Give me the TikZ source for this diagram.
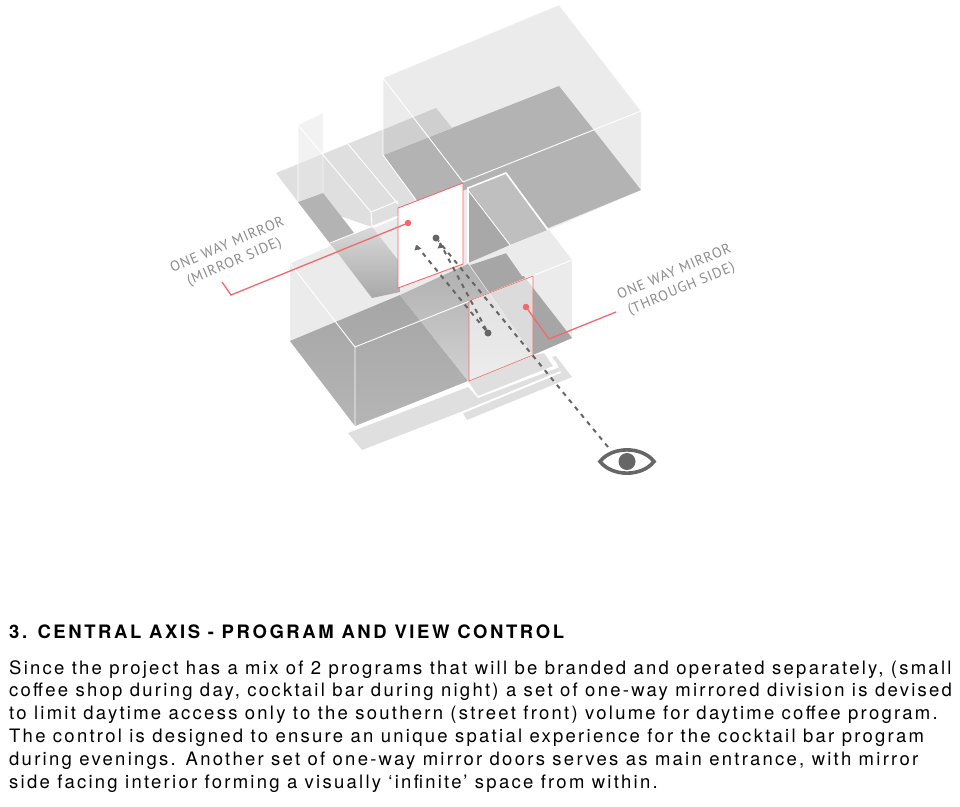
\documentclass[tikz,border=0pt]{standalone}
\usepackage{fontspec}
\setmainfont{TeX Gyre Heros}
\newfontfamily\labelfont[LetterSpace=6]{PT Sans}
\newfontfamily\bodyfont[LetterSpace=12.2]{TeX Gyre Heros}
\newfontfamily\titlefont[LetterSpace=14]{TeX Gyre Heros}
\usetikzlibrary{arrows.meta}

\definecolor{wallgrey}{HTML}{EBEBEB}
\definecolor{floorgrey}{HTML}{B3B3B3}
\definecolor{plategrey}{HTML}{DFDFDF}
\definecolor{mirrorred}{HTML}{F4686C}
\definecolor{axisgrey}{HTML}{666666}
\definecolor{labelgrey}{HTML}{8C8C8C}

\begin{document}
\begin{tikzpicture}[x=1pt, y=-1pt,
  edge/.style={draw=white, line width=0.9pt},
  mirror/.style={draw=mirrorred, line width=0.9pt},
  leader/.style={draw=mirrorred, line width=1.3pt},
  reddot/.style={circle, fill=mirrorred, inner sep=0pt, minimum size=6.5pt},
  greydot/.style={circle, fill=axisgrey, inner sep=0pt, minimum size=7pt},
  axisline/.style={draw=axisgrey, line width=2pt, dash pattern=on 4.5pt off 5pt},
  sidelabel/.style={font=\labelfont\fontsize{14.4}{18}\selectfont, text=labelgrey, rotate=23, align=center},
]
\useasboundingbox (0,0) rectangle (960,806);

% back volume
\fill[wallgrey] (383,78) -- (559,5) -- (641,111) -- (641,190) -- (548,230) -- (463,262) -- (383,155) -- cycle;
\fill[floorgrey] (383,155) -- (559,86) -- (641,190) -- (463,263) -- cycle;

% side plate
\fill[plategrey] (276,173) -- (436,108) -- (452,128) -- (383,155) -- (416,200) -- (398,208) -- (398,216) -- (372,227) -- (298,202) -- cycle;
\fill[gray!38] (383,130) -- (436,108) -- (452,128) -- (383,155) -- cycle;
\fill[floorgrey] (298,202) -- (323,193) -- (400,292) -- (372,298) -- cycle;
\fill[gray!20, opacity=0.5] (298,125) -- (323,113) -- (323,193) -- (298,202) -- cycle;

% front volume
\fill[wallgrey] (290,263) -- (506,173) -- (572,260) -- (572,338) -- (355,426) -- (290,341) -- cycle;
\shade[top color=gray!30, bottom color=gray!68] (330,243) -- (372,227) -- (398,260) -- (400,292) -- (372,298) -- cycle;
\fill[gray!50] (468,188) -- (506,173) -- (548,230) -- (510,245) -- cycle;
\fill[gray!68] (468,188) -- (510,245) -- (468,263) -- cycle;
\shade[top color=gray!70, bottom color=gray!58] (290,341) -- (400,295) -- (468,381) -- (355,426) -- cycle;
\shade[top color=gray!62, bottom color=gray!36] (400,295) -- (468,264) -- (533,355) -- (468,381) -- cycle;
\fill[gray!70] (470,265) -- (506,253) -- (572,338) -- (533,355) -- cycle;
\fill[wallgrey] (470,265) -- (510,245) -- (548,230) -- (572,260) -- (533,276) -- (522,276) -- (506,253) -- cycle;

% white edges
\draw[edge] (383,155) -- (383,78) -- (463,182) -- (641,111);
\draw[edge, opacity=0.5] (383,78) -- (559,5) -- (641,111) -- (641,190);
\draw[edge] (383,155) -- (416,200);
\draw[edge] (348,144) -- (398,204);
\draw[edge] (298,202) -- (298,125) -- (371,212) -- (398,201);
\draw[edge, opacity=0.6] (298,125) -- (323,113) -- (323,193);
\draw[edge] (371,212) -- (372,227);
\draw[edge] (330,243) -- (398,216);
\draw[edge, opacity=0.6] (290,341) -- (290,263) -- (330,246);
\draw[edge] (290,263) -- (355,347) -- (355,426);
\draw[edge] (355,347) -- (572,260);
\draw[edge, opacity=0.6] (572,260) -- (572,338);
\draw[edge, line width=1.6pt] (468,263) -- (468,188) -- (506,173) -- (548,230);
\draw[edge] (468,190) -- (510,245);

% front steps
\fill[plategrey] (348,433) -- (468,387) -- (478,398) -- (560,367) -- (552,357) -- (556,356) -- (565,369) -- (463,411) -- (362,450) -- cycle;
\fill[plategrey] (463,413) -- (561,373) -- (556,361) -- (558,359) -- (572,377) -- (467,420) -- cycle;
\fill[plategrey] (468,381) -- (535,355) -- (544,353) -- (553,366) -- (478,396) -- cycle;
\draw[edge] (362,451) -- (467,411) -- (561,372);
\draw[edge] (478,397) -- (553,367);

% mirrors
\fill[white] (398,208) -- (463,183) -- (463,264) -- (398,288) -- cycle;
\draw[mirror] (398,208) -- (463,183) -- (463,264) -- (398,288) -- cycle;
\fill[white, opacity=0.6] (469,301) -- (533,276) -- (533,355) -- (469,381) -- cycle;
\draw[mirror, line width=0.6pt] (469,301) -- (533,276) -- (533,355) -- (469,381) -- cycle;

% view axis
\node[greydot] (topdot) at (436,238) {};
\node[greydot] (floordot) at (488,333) {};
\coordinate (tipleft) at (416,245);
\coordinate (tipright) at (440,243);
\coordinate (eyeend) at (608,447);
\draw[axisline] (eyeend) -- (topdot);
\draw[axisline] (floordot) -- (tipleft);
\draw[axisline] (floordot) -- (tipright);
\fill[axisgrey] (tipleft) -- +(5.5,3.5) -- +(-1.5,5.5) -- cycle;
\fill[axisgrey] (tipright) -- +(3.5,4.5) -- +(-2.5,5.5) -- cycle;

% eye
\draw[axisgrey, line width=3.6pt] (600,461.5) .. controls (612,446) and (642,446) .. (654,461.5) .. controls (642,477) and (612,477) .. (600,461.5) -- cycle;
\node[circle, fill=axisgrey, inner sep=0pt, minimum size=17pt] (pupil) at (627,461.5) {};

% leaders
\node[reddot] (mirrordot) at (408,223) {};
\coordinate (mirrorbend) at (231,295);
\coordinate (mirrorend) at (222,282);
\draw[leader] (mirrordot.center) -- (mirrorbend) -- (mirrorend);
\node[reddot] (throughdot) at (526,307) {};
\coordinate (throughbend) at (549,339);
\coordinate (throughend) at (616,312);
\draw[leader] (throughdot.center) -- (throughbend) -- (throughend);

\node[sidelabel] (mirrorlabel) at (231,254) {ONE WAY MIRROR\\(MIRROR SIDE)};
\node[sidelabel] (throughlabel) at (678,281) {ONE WAY MIRROR\\(THROUGH SIDE)};

% caption
\node[anchor=base west, inner sep=0pt, font=\titlefont\bfseries\fontsize{18.5}{22}\selectfont] (title) at (9,638) {3. CENTRAL AXIS - PROGRAM AND VIEW CONTROL};
\node[anchor=north west, inner sep=0pt, align=left, font=\bodyfont\fontsize{18.5}{22.8}\selectfont] (body) at (9,660) {Since the project has a mix of 2 programs that will be branded and operated separately, (small\\
coffee shop during day, cocktail bar during night) a set of one-way mirrored division is devised\\
to limit daytime access only to the southern (street front) volume for daytime coffee program.\\
The control is designed to ensure an unique spatial experience for the cocktail bar program\\
during evenings. Another set of one-way mirror doors serves as main entrance, with mirror\\
side facing interior forming a visually ‘infinite’ space from within.};
\end{tikzpicture}
\end{document}
